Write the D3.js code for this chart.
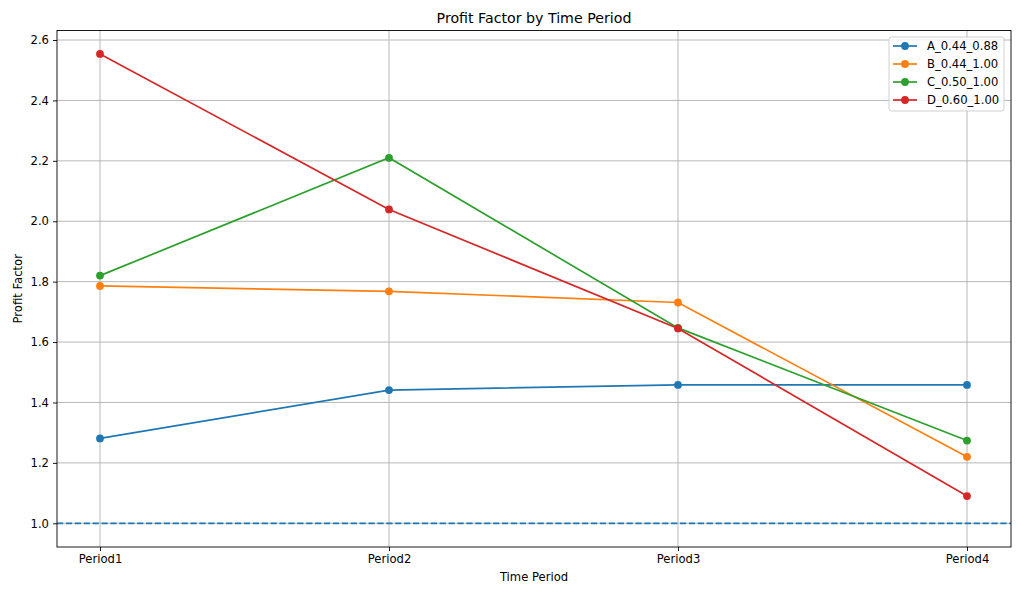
<!DOCTYPE html>
<html><head><meta charset="utf-8">
<script src="https://cdn.jsdelivr.net/npm/d3@7"></script>
<style>body{margin:0;background:#fff}svg{display:block}text{font-family:"DejaVu Sans",sans-serif;fill:#000}</style>
</head><body>
<svg id="c" width="1024" height="597"></svg>
<script>
const categories = ["Period1","Period2","Period3","Period4"];
const seriesNames = ["A_0.44_0.88","B_0.44_1.00","C_0.50_1.00","D_0.60_1.00"];
const seriesA = [1.281, 1.441, 1.458, 1.458];
const seriesB = [1.786, 1.768, 1.731, 1.220];
const seriesC = [1.820, 2.210, 1.647, 1.274];
const seriesD = [2.554, 2.039, 1.645, 1.090];
const colors = ["#1f77b4","#ff7f0e","#2ca02c","#d62728"];
const yTicks = [1.0,1.2,1.4,1.6,1.8,2.0,2.2,2.4,2.6];
const refValue = 1.0;
const series = [seriesA, seriesB, seriesC, seriesD];

const svg = d3.select("#c");
const L = 57, R = 1011, T = 30.5, B = 547;
const FS = "11.6px";
const MR = 3.9;
const x = d3.scalePoint().domain(categories).range([100, 967]);
const y = d3.scaleLinear().domain([0.9215, 2.6315]).range([B, T]);

// grid
const g = svg.append("g");
g.selectAll(".gx").data(categories).enter().append("line")
  .attr("x1", d=>x(d)).attr("x2", d=>x(d)).attr("y1", T).attr("y2", B)
  .attr("stroke", "#b0b0b0").attr("stroke-width", 0.9);
g.selectAll(".gy").data(yTicks).enter().append("line")
  .attr("x1", L).attr("x2", R).attr("y1", d=>y(d)).attr("y2", d=>y(d))
  .attr("stroke", "#b0b0b0").attr("stroke-width", 0.9);

// axes
const xAxis = d3.axisBottom(x).tickSize(4).tickPadding(4);
const yAxis = d3.axisLeft(y).tickValues(yTicks).tickFormat(d3.format(".1f")).tickSize(4).tickPadding(4);
const gx = svg.append("g").attr("transform", `translate(0,${B})`).call(xAxis);
const gy = svg.append("g").attr("transform", `translate(${L},0)`).call(yAxis);
[gx, gy].forEach(a => {
  a.select(".domain").remove();
  a.selectAll("text").style("font-size", FS).style("font-family", "DejaVu Sans");
  a.selectAll("line").attr("stroke", "#000").attr("stroke-width", 0.9);
});

// lines
const line = d3.line().x((d,i)=>x(categories[i])).y(d=>y(d));
series.forEach((s, k) => {
  svg.append("path").datum(s).attr("d", line).attr("fill", "none")
    .attr("stroke", colors[k]).attr("stroke-width", 1.7);
  svg.selectAll(null).data(s).enter().append("circle")
    .attr("cx", (d,i)=>x(categories[i])).attr("cy", d=>y(d)).attr("r", MR)
    .attr("fill", colors[k]);
});

// reference line
svg.append("line").attr("x1", L).attr("x2", R).attr("y1", y(refValue)).attr("y2", y(refValue))
  .attr("stroke", "#1f77b4").attr("stroke-width", 1.7).attr("stroke-dasharray", "6.2,2.7");

// frame
svg.append("rect").attr("x", L).attr("y", T).attr("width", R-L).attr("height", B-T)
  .attr("fill", "none").attr("stroke", "#000").attr("stroke-width", 0.9);

// title & labels
svg.append("text").attr("x", (L+R)/2).attr("y", 23).attr("text-anchor", "middle")
  .style("font-size", "14.2px").text("Profit Factor by Time Period");
svg.append("text").attr("x", (L+R)/2).attr("y", 581).attr("text-anchor", "middle")
  .style("font-size", FS).text("Time Period");
svg.append("text").attr("transform", `translate(22,${(T+B)/2}) rotate(-90)`).attr("text-anchor", "middle")
  .style("font-size", FS).text("Profit Factor");

// legend
const lg = svg.append("g");
lg.append("rect").attr("x", 889).attr("y", 37).attr("width", 115).attr("height", 74).attr("rx", 2.5)
  .attr("fill", "#fff").attr("fill-opacity", 0.8).attr("stroke", "#cccccc").attr("stroke-width", 0.9);
seriesNames.forEach((n, k) => {
  const yy = 46 + k*18;
  lg.append("line").attr("x1", 893).attr("x2", 917).attr("y1", yy).attr("y2", yy)
    .attr("stroke", colors[k]).attr("stroke-width", 1.7);
  lg.append("circle").attr("cx", 905).attr("cy", yy).attr("r", MR).attr("fill", colors[k]);
  lg.append("text").attr("x", 927).attr("y", yy + 4).style("font-size", FS).text(n);
});
</script>
</body></html>
